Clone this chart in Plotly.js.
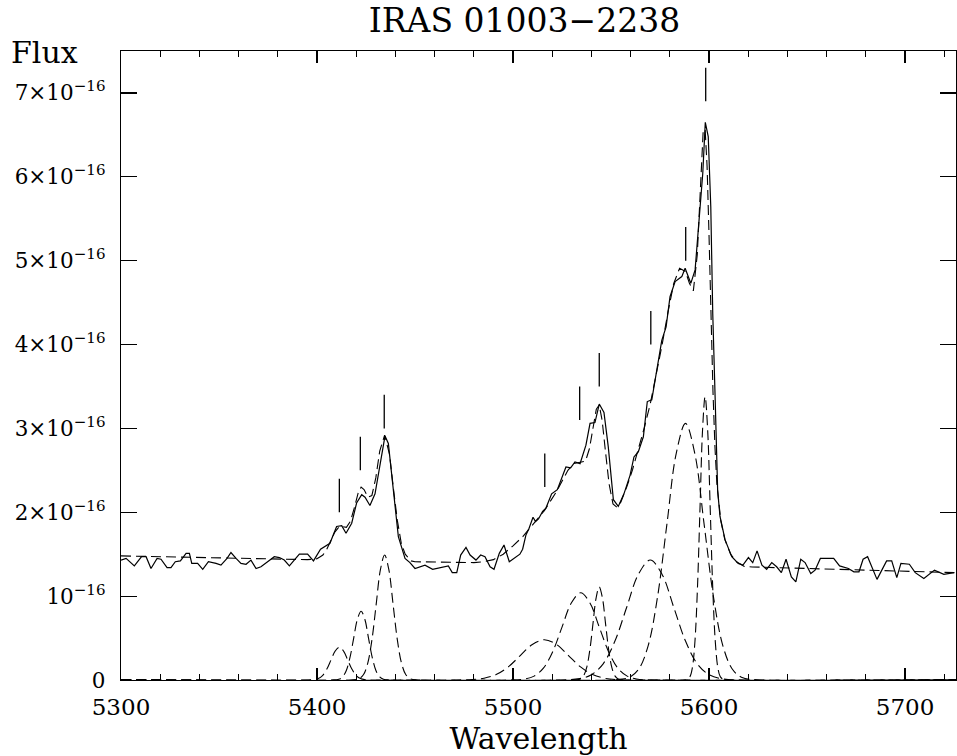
<!DOCTYPE html>
<html>
<head>
<meta charset="utf-8">
<script src="https://cdn.plot.ly/plotly-3.0.1.min.js"></script>
<style>html,body{margin:0;padding:0;background:#fff;}#chart{width:957px;height:756px;}</style>
</head>
<body>
<div id="chart"></div>
<script>
// Observed spectrum (flux in units of 1e-16)
const wavelength = [5300.0,5302.6,5306.8,5310.5,5312.8,5315.3,5318.4,5320.4,5323.5,5325.5,5327.7,5330.3,5333.2,5334.9,5336.1,5339.1,5341.7,5344.6,5348.5,5351.0,5354.1,5356.1,5358.7,5361.2,5363.8,5366.3,5368.9,5371.4,5374.8,5378.2,5380.8,5383.3,5385.9,5388.4,5391.0,5395.2,5398.2,5401.8,5406.6,5410.0,5412.6,5414.8,5417.7,5420.2,5422.8,5424.5,5427.0,5429.6,5432.1,5434.7,5436.4,5438.9,5441.5,5444.9,5447.4,5450.0,5452.6,5455.1,5459.0,5465.3,5467.0,5469.0,5471.3,5473.3,5476.0,5478.1,5481.1,5483.5,5485.7,5488.3,5490.3,5493.0,5495.4,5498.1,5501.0,5503.5,5504.9,5506.6,5508.2,5510.2,5511.5,5513.0,5515.1,5516.8,5519.7,5522.6,5527.0,5529.4,5531.6,5534.2,5537.2,5539.3,5541.8,5544.0,5546.4,5548.6,5551.2,5553.7,5556.6,5559.7,5561.7,5563.9,5566.5,5568.5,5570.8,5573.3,5575.9,5578.1,5580.1,5582.7,5586.1,5587.8,5590.7,5592.9,5595.1,5596.8,5598.1,5599.6,5600.9,5601.9,5603.1,5604.4,5605.6,5608.2,5611.6,5614.9,5617.3,5620.1,5622.3,5624.5,5627.0,5629.4,5632.0,5634.5,5636.9,5639.3,5642.0,5644.3,5646.8,5649.0,5651.9,5654.1,5656.8,5663.6,5666.6,5671.1,5673.9,5676.5,5678.6,5680.9,5685.7,5690.6,5693.2,5695.8,5697.9,5702.2,5705.2,5709.6,5715.0,5719.8,5725.0];
const flux = [1.43,1.45,1.36,1.47,1.47,1.33,1.45,1.44,1.34,1.34,1.41,1.42,1.51,1.51,1.39,1.39,1.32,1.41,1.39,1.37,1.45,1.52,1.45,1.39,1.38,1.43,1.33,1.35,1.41,1.47,1.46,1.43,1.36,1.43,1.50,1.50,1.42,1.56,1.63,1.83,1.84,1.75,1.87,2.11,2.21,2.18,2.08,2.22,2.58,2.91,2.82,2.26,1.71,1.45,1.40,1.33,1.35,1.37,1.32,1.35,1.36,1.28,1.28,1.49,1.58,1.49,1.43,1.49,1.47,1.35,1.32,1.51,1.61,1.41,1.46,1.50,1.56,1.73,1.81,1.94,1.89,1.92,2.01,2.05,2.22,2.27,2.54,2.53,2.60,2.58,2.80,3.06,3.07,3.29,3.19,2.78,2.15,2.07,2.22,2.44,2.66,2.72,2.90,3.32,3.34,3.69,4.05,4.21,4.57,4.75,4.81,4.91,4.73,4.89,5.48,6.04,6.65,6.48,5.64,4.37,3.38,2.26,1.95,1.67,1.47,1.39,1.37,1.46,1.40,1.54,1.37,1.32,1.40,1.35,1.28,1.44,1.23,1.17,1.44,1.40,1.27,1.31,1.45,1.45,1.36,1.33,1.29,1.29,1.44,1.47,1.20,1.42,1.42,1.22,1.39,1.38,1.28,1.21,1.31,1.26,1.28];

// Total fit (dashed)
const fitWave = [5300,5395,5400,5403,5405,5407,5409,5411.4,5413,5415,5417,5419,5421,5422.5,5424,5426,5428,5430,5432,5434.5,5437,5439,5441,5443,5445,5448,5450,5480,5485,5490,5495,5500,5505,5510,5513,5516,5519,5522,5525,5528,5531,5534.5,5537,5539,5541,5542.5,5544,5545.5,5547,5549,5551,5553,5555,5558,5561,5564,5567,5570,5573,5576,5579,5582,5585,5588,5590,5592,5594,5596,5597,5598,5599,5600,5601,5602,5603,5604,5606,5608,5611,5614,5618,5622,5726];
const fitFlux = [1.48,1.435,1.445,1.49,1.56,1.66,1.76,1.83,1.83,1.82,1.89,2.05,2.23,2.30,2.27,2.18,2.20,2.41,2.73,2.92,2.69,2.28,1.90,1.63,1.50,1.42,1.41,1.40,1.41,1.435,1.50,1.60,1.71,1.85,1.93,2.02,2.13,2.24,2.37,2.50,2.58,2.60,2.61,2.76,3.03,3.23,3.28,3.09,2.76,2.34,2.10,2.06,2.12,2.30,2.51,2.75,3.01,3.29,3.62,3.99,4.38,4.73,4.91,4.87,4.73,4.64,5.07,6.14,6.54,6.57,6.13,5.30,4.34,3.45,2.79,2.34,1.90,1.68,1.50,1.41,1.354,1.348,1.28];

// Individual line components (dashed)
const compA_w = [5300,5394.2,5398.5,5400.65,5402.8,5404.95,5407.1,5409.25,5411.4,5413.55,5415.7,5417.85,5420.0,5422.15,5424.3,5428.6,5726];
const compA_f = [0,0,0.004,0.017,0.053,0.127,0.237,0.344,0.39,0.344,0.237,0.127,0.053,0.017,0.004,0,0];
const compB_w = [5300,5407.3,5411.1,5413.0,5414.9,5416.8,5418.7,5420.6,5422.5,5424.4,5426.3,5428.2,5430.1,5432.0,5433.9,5437.7,5726];
const compB_f = [0,0,0.009,0.036,0.111,0.266,0.497,0.724,0.82,0.724,0.497,0.266,0.111,0.036,0.009,0,0];
const compC_w = [5300,5417.3,5421.6,5423.75,5425.9,5428.05,5430.2,5432.35,5434.5,5436.65,5438.8,5440.95,5443.1,5445.25,5447.4,5451.7,5726];
const compC_f = [0,0,0.017,0.065,0.202,0.484,0.904,1.315,1.49,1.315,0.904,0.484,0.202,0.065,0.017,0,0];
const compD_w = [5300,5466.8,5479.1,5485.25,5491.4,5497.55,5503.7,5509.85,5516,5522.15,5528.3,5534.45,5540.6,5546.75,5552.9,5565.2,5726];
const compD_f = [0,0,0.005,0.021,0.065,0.156,0.291,0.424,0.48,0.424,0.291,0.156,0.065,0.021,0.005,0,0];
const compE_w = [5300,5496.5,5506.0,5510.75,5515.5,5520.25,5525.0,5529.75,5534.5,5539.25,5544.0,5548.75,5553.5,5558.25,5563.0,5572.5,5726];
const compE_f = [0,0,0.012,0.046,0.141,0.338,0.631,0.918,1.04,0.918,0.631,0.338,0.141,0.046,0.012,0,0];
const compF_w = [5300,5531.2,5534.4,5536.0,5537.6,5539.2,5540.8,5542.4,5544.0,5545.6,5547.2,5548.8,5550.4,5552.0,5553.6,5556.8,5726];
const compF_f = [0,0,0.012,0.049,0.150,0.360,0.673,0.980,1.11,0.980,0.673,0.360,0.150,0.049,0.012,0,0];
const compG_w = [5300,5522,5534,5540,5546,5552,5558,5564,5570,5576,5582,5588,5594,5600,5606,5618,5726];
const compG_f = [0,0,0.016,0.063,0.193,0.464,0.867,1.262,1.43,1.262,0.867,0.464,0.193,0.063,0.016,0,0];
const compH_w = [5300,5550.0,5559.5,5564.25,5569.0,5573.75,5578.5,5583.25,5588,5592.75,5597.5,5602.25,5607.0,5611.75,5616.5,5626.0,5726];
const compH_f = [0,0,0.034,0.134,0.414,0.994,1.856,2.70,3.06,2.70,1.856,0.994,0.414,0.134,0.034,0,0];
const compI_w = [5300,5587.6,5590.2,5591.5,5592.8,5594.1,5595.4,5596.7,5598,5599.3,5600.6,5601.9,5603.2,5604.5,5605.8,5608.4,5726];
const compI_f = [0,0,0.038,0.148,0.457,1.097,2.05,2.983,3.38,2.983,2.05,1.097,0.457,0.148,0.038,0,0];

// Line position markers (short vertical ticks)
const markerWave = [5411.4,5422.1,5434.3,5516.2,5534.0,5544.0,5570.3,5588.1,5598.3];
const markerLow  = [2.0,2.5,3.0,2.3,3.1,3.5,4.0,5.0,6.9];
const markerHigh = [2.4,2.9,3.4,2.7,3.5,3.9,4.4,5.4,7.3];

// Axis ticks
const xRange = [5300,5726];
const xTickStart = 5300, xTickStep = 100, xMinorStep = 20;
const yRange = [0,7.5];
const yTickVals = [0,1,2,3,4,5,6,7];
const yTickText = ["0","10<sup>−16</sup>","2×10<sup>−16</sup>","3×10<sup>−16</sup>","4×10<sup>−16</sup>","5×10<sup>−16</sup>","6×10<sup>−16</sup>","7×10<sup>−16</sup>"];

const FONT = "DejaVu Serif, Liberation Serif, serif";
const DASH = "10px,5px";

const comps = [[compA_w,compA_f],[compB_w,compB_f],[compC_w,compC_f],[compD_w,compD_f],[compE_w,compE_f],[compF_w,compF_f],[compG_w,compG_f],[compH_w,compH_f],[compI_w,compI_f]];

const traces = [];
comps.forEach(function(c){
  traces.push({x:c[0], y:c[1], type:'scatter', mode:'lines', line:{color:'#000', width:1.1, dash:DASH, shape:'spline', smoothing:1}, hoverinfo:'skip', showlegend:false});
});
traces.push({x:fitWave, y:fitFlux, type:'scatter', mode:'lines', line:{color:'#000', width:1.1, dash:DASH}, showlegend:false});
traces.push({x:wavelength, y:flux, type:'scatter', mode:'lines', line:{color:'#000', width:1.2}, showlegend:false});

const mx = [], my = [];
markerWave.forEach(function(w,i){ mx.push(w,w,null); my.push(markerLow[i],markerHigh[i],null); });
traces.push({x:mx, y:my, type:'scatter', mode:'lines', line:{color:'#000', width:1.3}, showlegend:false});

const layout = {
  width:957, height:756,
  margin:{l:121, r:1, t:51, b:76},
  paper_bgcolor:'#fff', plot_bgcolor:'#fff',
  font:{family:FONT, color:'#000', size:16},
  showlegend:false,
  title:{text:'IRAS 01003−2238', x:0.548, xanchor:'center', y:0.973, yanchor:'middle', font:{family:FONT, size:33, color:'#000'}},
  xaxis:{
    range:xRange, tickmode:'linear', tick0:xTickStart, dtick:xTickStep,
    ticks:'inside', ticklen:12, tickwidth:1.2, tickcolor:'#000',
    showline:true, linecolor:'#000', linewidth:1.2, mirror:'ticks',
    showgrid:false, zeroline:false, ticklabelstandoff:6,
    minor:{tick0:xTickStart, dtick:xMinorStep, ticks:'inside', ticklen:6, tickwidth:1.2, tickcolor:'#000', showgrid:false},
    tickfont:{family:FONT, size:23, color:'#000'},
    title:{text:'Wavelength', font:{family:FONT, size:30, color:'#000'}, standoff:14}
  },
  yaxis:{
    range:yRange, tickmode:'array', tickvals:yTickVals, ticktext:yTickText,
    ticks:'inside', ticklen:16, tickwidth:1.2, tickcolor:'#000',
    showline:true, linecolor:'#000', linewidth:1.2, mirror:'ticks',
    showgrid:false, zeroline:false, ticklabelstandoff:10,
    tickfont:{family:FONT, size:21.5, color:'#000'}
  },
  annotations:[{text:'Flux', xref:'paper', yref:'paper', x:-0.0916, y:0.998, xanchor:'center', yanchor:'middle', showarrow:false, font:{family:FONT, size:30, color:'#000'}}]
};

Plotly.newPlot('chart', traces, layout, {staticPlot:true, displayModeBar:false});
</script>
</body>
</html>
